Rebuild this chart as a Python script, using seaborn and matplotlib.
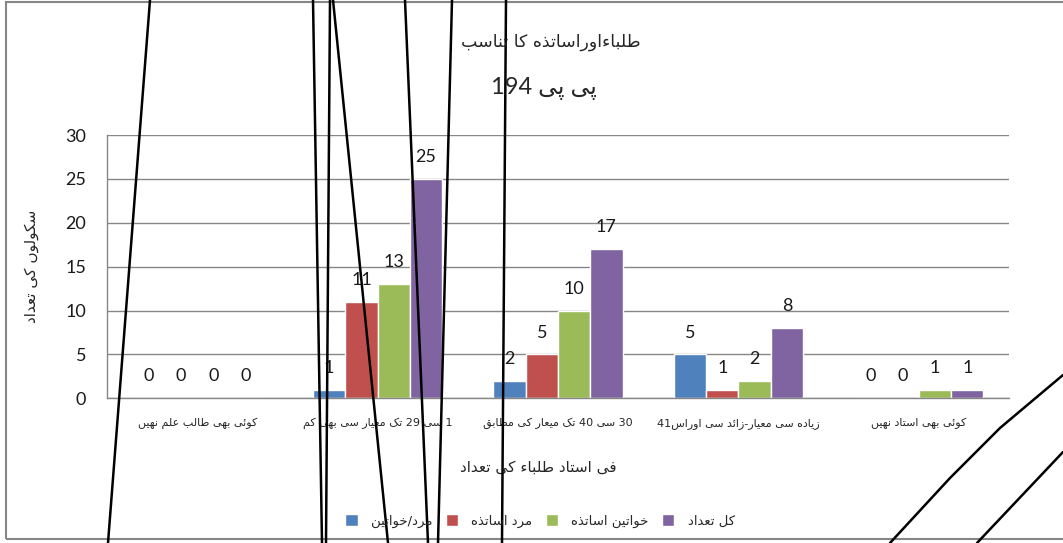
import re
import pandas as pd
import seaborn as sns
import matplotlib.pyplot as plt
from matplotlib import font_manager
from matplotlib.ft2font import FT2Font
from matplotlib.lines import Line2D
from matplotlib.patches import Rectangle

# chart data
categories = ["کوئی بھی طالب علم نہیں", "1 سے 29 تک معیار سے بھی کم",
              "30 سے 40 تک میعار کے مطابق", "41اوراس سے زائد۔معیار سے زیادہ",
              "کوئی بھی استاد نہیں"]
series_names = ["مرد/خواتین", "مرد اساتذہ", "خواتین اساتذہ", "کل تعداد"]
mixed = [0, 1, 2, 5, 0]
male = [0, 11, 5, 1, 0]
female = [0, 13, 10, 2, 1]
total = [0, 25, 17, 8, 1]
yticks = [0, 5, 10, 15, 20, 25, 30]
title1 = "طلباءاوراساتذہ کا تناسب"
title2 = "پی پی 194"
ylabel = "سکولوں کی تعداد"
xlabel = "فی استاد طلباء کی تعداد"
colors = ["#4F81BD", "#C0504D", "#9BBB59", "#8064A2"]

# pen strokes drawn over the scanned chart (pixel coords)
scribbles = [
    [(150, 0), (108, 543)],
    [(313, 0), (322, 543)],
    [(330, 0), (326, 543)],
    [(333, 0), (388, 543)],
    [(405, 0), (428, 543)],
    [(452, 0), (438, 543)],
    [(506, 0), (502, 543)],
    [(1063, 375), (1000, 428), (950, 478), (890, 543)],
    [(1063, 452), (977, 543)],
]

# --- minimal arabic/urdu shaping (matplotlib has no text shaping) ---
def d(b):
    return (b, b + 1, b + 2, b + 3)

def r(b):
    return (b, b + 1, None, None)

FORMS = {
    'ء': (0xFE80, None, None, None), 'آ': r(0xFE81), 'ئ': d(0xFE89), 'ا': r(0xFE8D),
    'ب': d(0xFE8F), 'ت': d(0xFE95), 'ث': d(0xFE99), 'ج': d(0xFE9D), 'ح': d(0xFEA1),
    'خ': d(0xFEA5), 'د': r(0xFEA9), 'ذ': r(0xFEAB), 'ر': r(0xFEAD), 'ز': r(0xFEAF),
    'س': d(0xFEB1), 'ش': d(0xFEB5), 'ص': d(0xFEB9), 'ض': d(0xFEBD), 'ط': d(0xFEC1),
    'ظ': d(0xFEC5), 'ع': d(0xFEC9), 'غ': d(0xFECD), 'ف': d(0xFED1), 'ق': d(0xFED5),
    'ك': d(0xFED9), 'ل': d(0xFEDD), 'م': d(0xFEE1), 'ن': d(0xFEE5), 'ه': d(0xFEE9),
    'و': r(0xFEED), 'ى': r(0xFEEF), 'ي': d(0xFEF1),
    'ٹ': d(0xFB66), 'پ': d(0xFB56), 'چ': d(0xFB7A), 'ڈ': r(0xFB88), 'ڑ': r(0xFB8C),
    'ک': d(0xFB8E), 'گ': d(0xFB92), 'ں': r(0xFB9E), 'ہ': d(0xFBA6), 'ھ': d(0xFBAA),
    'ی': d(0xFBFC), 'ے': r(0xFBAE),
}
RIGHT = set('آاأإدذرزڈڑژوؤےى')
DUAL = set(FORMS) - RIGHT - {'ء', 'ں'}
SUB = {'ٹ': 'ت', 'پ': 'ب', 'چ': 'ج', 'ڈ': 'د', 'ڑ': 'ر', 'ک': 'ك', 'گ': 'ك',
       'ں': 'ن', 'ہ': 'ه', 'ھ': 'ه', 'ی': 'ي', 'ے': 'ى'}
cmap = FT2Font(font_manager.findfont('DejaVu Sans')).get_charmap()

def glyph(ch, idx):
    f = FORMS[ch]
    cp = f[idx] if f[idx] is not None else f[idx - 2]
    if cp in cmap:
        return chr(cp)
    if ch in SUB:
        if ch == 'ی' and idx in (0, 1):
            return glyph('ى', idx)
        return glyph(SUB[ch], idx)
    return ch

def shape(text):
    out = []
    for i, ch in enumerate(text):
        if ch not in FORMS:
            # urdu full stop is in no installed font, a dash stands in for it
            out.append(ch if ord(ch) in cmap or ch.isascii() else '-')
            continue
        prev = text[i - 1] if i > 0 else ''
        nxt = text[i + 1] if i + 1 < len(text) else ''
        jp = prev in DUAL and (ch in DUAL or ch in RIGHT or ch == 'ں')
        jn = ch in DUAL and (nxt in DUAL or nxt in RIGHT or nxt == 'ں')
        idx = 3 if jp and jn else 1 if jp else 2 if jn else 0
        out.append(glyph(ch, idx))
    return ''.join(out)

LETTERS = '\u0621-\u06D3\uFB50-\uFDFF\uFE70-\uFEFF'

def urdu(text, rtl=True):
    s = shape(text)
    if rtl:
        runs = re.findall(r'[0-9]+|[^0-9]+', s)
        return ''.join(x if x[0].isdigit() else x[::-1] for x in reversed(runs))
    runs = re.findall('[' + LETTERS + ']+|[^' + LETTERS + ']+', s)
    return ''.join(x[::-1] if re.match('[' + LETTERS + ']', x) else x for x in runs)

# --- plot ---
sns.set_style("white")
plt.rcParams['font.family'] = ['Lato', 'DejaVu Sans']

df = pd.DataFrame({
    "cat": categories * 4,
    "series": [s for s in series_names for _ in categories],
    "value": mixed + male + female + total,
})

fig = plt.figure(figsize=(10.63, 5.43), dpi=100)
ax = fig.add_axes([107 / 1063, 1 - 398.3 / 543, 902 / 1063, 263.3 / 543])
sns.barplot(data=df, x="cat", y="value", hue="series", order=categories,
            hue_order=series_names, palette=colors, saturation=1, width=0.716,
            ax=ax)

for c in ax.containers:
    ax.bar_label(c, padding=10, fontsize=13, color='#1a1a1a')

ax.set_ylim(0, 30)
ax.set_xlim(-0.5, 4.5)
ax.set_yticks(yticks)
ax.yaxis.grid(True, color='#878787', lw=1)
ax.set_axisbelow(True)
for sp in ['top', 'right']:
    ax.spines[sp].set_visible(False)
for sp in ['left', 'bottom']:
    ax.spines[sp].set_color('#878787')
    ax.spines[sp].set_linewidth(1)
ax.tick_params(axis='y', length=5, width=1, color='#878787', pad=10,
               labelsize=13, labelcolor='#1a1a1a')
ax.set_xticks(range(len(categories)))
ax.set_xticklabels([urdu(c, rtl=(i != 3)) for i, c in enumerate(categories)],
                   fontsize=8, family='DejaVu Sans')
ax.set_xticks([i - 0.5 for i in range(len(categories) + 1)], minor=True)
ax.tick_params(axis='x', which='major', length=0, pad=14)
ax.tick_params(axis='x', which='minor', length=5, width=1, color='#878787')
ax.set_xlabel(urdu(xlabel), fontsize=11, family='DejaVu Sans')
ax.xaxis.set_label_coords((538 - 107) / 902, -61 / 263.3)
ax.set_ylabel(urdu(ylabel), fontsize=11, family='DejaVu Sans')
ax.yaxis.set_label_coords(-68 / 902, 0.5)

handles, _ = ax.get_legend_handles_labels()
ax.get_legend().remove()
fig.legend(handles, [urdu(s) for s in series_names], loc='center',
           bbox_to_anchor=(540 / 1063, 1 - 521 / 543), ncol=4, frameon=False,
           prop={'family': 'DejaVu Sans', 'size': 9.5}, handlelength=0.95,
           handleheight=0.95, handletextpad=1.0, columnspacing=1.0)

fig.text(0.518, 1 - 42 / 543, urdu(title1), ha='center', va='center',
         fontsize=12.5, family='DejaVu Sans')
fig.text(0.512, 1 - 88 / 543, urdu(title2), ha='center', va='center',
         fontsize=17, family=['Lato', 'DejaVu Sans'])

# chart area border
fig.patches.append(Rectangle((5.5 / 1063, 1 - 539 / 543), 1.0, 537 / 543,
                             transform=fig.transFigure, fill=False,
                             edgecolor='#868686', lw=1.5))
for pts in scribbles:
    fig.lines.append(Line2D([p[0] / 1063 for p in pts], [1 - p[1] / 543 for p in pts],
                            transform=fig.transFigure, color='black', lw=1.8))

fig.savefig("out.png", dpi=100)
